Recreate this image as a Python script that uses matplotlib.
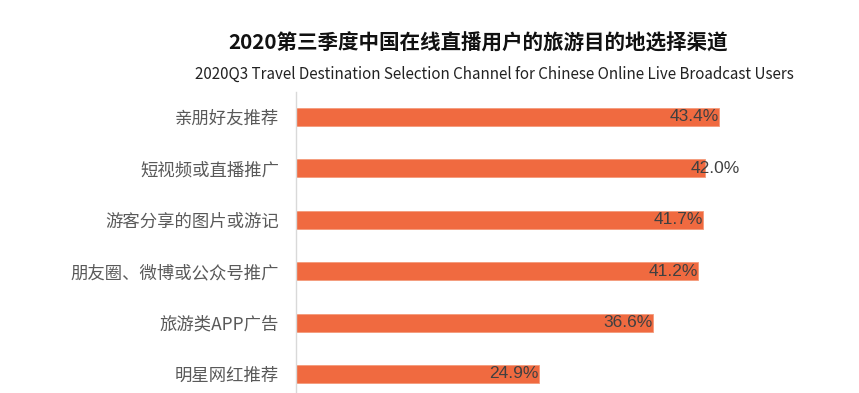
import matplotlib
matplotlib.use("Agg")
import matplotlib.pyplot as plt

plt.rcParams["font.family"] = ["Noto Sans CJK SC", "DejaVu Sans"]

# data
channels = [
    "亲朋好友推荐",
    "短视频或直播推广",
    "游客分享的图片或游记",
    "朋友圈、微博或公众号推广",
    "旅游类APP广告",
    "明星网红推荐",
]
shares = [43.4, 42.0, 41.7, 41.2, 36.6, 24.9]
value_labels = ["43.4%", "42.0%", "41.7%", "41.2%", "36.6%", "24.9%"]

title_cn = "2020第三季度中国在线直播用户的旅游目的地选择渠道"
title_en = "2020Q3 Travel Destination Selection Channel for Chinese Online Live Broadcast Users"

bar_color = "#F06A40"

fig = plt.figure(figsize=(8.59, 3.93), dpi=100)
ax = fig.add_axes([0.3446, 0.0, 0.5675, 0.766])

ypos = list(range(len(channels)))
ax.barh(ypos, shares, height=0.35, color=bar_color, edgecolor="#F49A7A", linewidth=0.6)

# label positions (the second one sits a bit past the bar end in the source)
label_shift = [0, 3.5, 0, 0, 0, 0]
for y, v, lab, s in zip(ypos, shares, value_labels, label_shift):
    ax.text(v + s, y, lab, ha="right", va="center",
            fontsize=12.5, color="#404040", family=["Liberation Sans", "DejaVu Sans"])

ax.set_xlim(0, 50)
ax.set_ylim(5.37, -0.486)
ax.set_yticks(ypos)
ax.set_yticklabels(channels, fontsize=12.5, color="#595959")
ax.tick_params(axis="y", length=0, pad=12)
ax.set_xticks([])

for side in ["top", "right", "bottom"]:
    ax.spines[side].set_visible(False)
ax.spines["left"].set_color("#d9d9d9")
ax.spines["left"].set_linewidth(1)

fig.text(0.556, 0.89, title_cn, ha="center", va="center",
         fontsize=14.8, fontweight="bold", color="#111111")
fig.text(0.576, 0.812, title_en, ha="center", va="center",
         fontsize=10.9, color="#222222")

fig.savefig("out.png", dpi=100)
